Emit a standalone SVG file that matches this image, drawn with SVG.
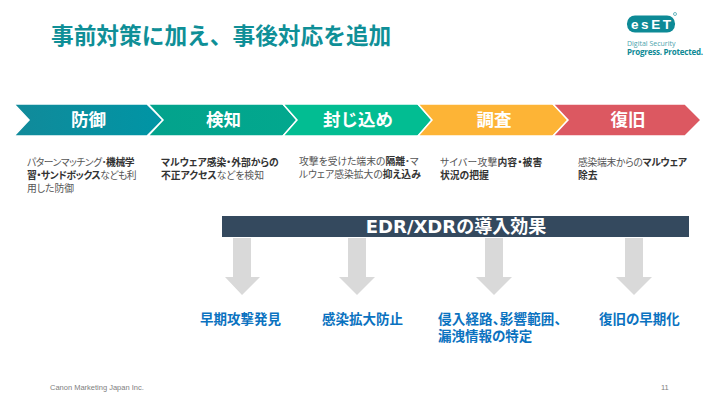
<svg xmlns="http://www.w3.org/2000/svg" width="720" height="403" viewBox="0 0 720 403">
<defs>
<linearGradient id="g1" x1="0" x2="1" y1="0" y2="0"><stop offset="0" stop-color="#118a9a"/><stop offset="1" stop-color="#0095a5"/></linearGradient>
<linearGradient id="g2" x1="0" x2="1" y1="0" y2="0"><stop offset="0" stop-color="#03a28c"/><stop offset="1" stop-color="#02a88e"/></linearGradient>
</defs>
<style>
text{font-family:"Noto Sans CJK JP","Noto Sans",sans-serif}
.s{stroke:#fff;stroke-width:1.5}
.h{font-size:17.5px;font-weight:700;fill:#fff;text-anchor:middle}
.b{font-size:9.8px;fill:#555;font-feature-settings:"palt"}
.b tspan.k{font-weight:700;fill:#333}
.t{letter-spacing:-.45px}
.r{font-size:13.5px;font-weight:700;fill:#0a72c0;font-feature-settings:"palt"}
.a{fill:#d9d9d9}
</style>
<rect width="720" height="403" fill="#fff"/>
<text id="title" x="51" y="44" font-size="22.700" font-weight="700" fill="#0f8f97">事前対策に加え、事後対応を追加</text>
<g id="logo">
<rect x="627" y="15.500" width="48" height="17" rx="8" fill="#0d8a96"/>
<text x="651" y="28.500" font-size="13.500" font-weight="700" fill="#fff" text-anchor="middle" style="font-family:'Liberation Sans',sans-serif" textLength="40">esET</text>
<circle cx="675" cy="14" r="1.500" fill="none" stroke="#0d8a96" stroke-width=".6"/>
<text x="627" y="46" font-size="7" fill="#4aa3ad" style="font-family:'Open Sans',sans-serif">Digital Security</text>
<text x="627" y="55" font-size="8" font-weight="700" fill="#0d8a96" style="font-family:'Open Sans',sans-serif" textLength="76">Progress. Protected.</text>
</g>
<g id="step1"><polygon class="s" fill="url(#g1)" points="14,104 147,104 163,120 147,136 14,136 29,120"/><text class="h" x="88.500" y="126">防御</text>
<text class="b t" x="27" y="165.500">パターンマッチング・<tspan class="k">機械学</tspan></text><text class="b t" x="27" y="179"><tspan class="k">習・サンドボックス</tspan>なども利</text><text class="b" x="27" y="192">用した防御</text></g>
<g id="step2"><polygon class="s" fill="url(#g2)" points="148,104 283,104 297,120 283,136 148,136 163,120"/><text class="h" x="223.500" y="126">検知</text>
<text class="b" x="161" y="165.500"><tspan class="k">マルウェア感染・外部からの</tspan></text><text class="b" x="161" y="179"><tspan class="k">不正アクセス</tspan>などを検知</text></g>
<g id="step3"><polygon class="s" fill="#02bd92" points="283,104 418,104 432,120 418,136 283,136 297,120"/><text class="h" x="358" y="126">封じ込め</text>
<text class="b" x="299" y="165">攻撃を受けた端末の<tspan class="k">隔離</tspan>・マ</text><text class="b" x="299" y="178">ルウェア感染拡大の<tspan class="k">抑え込み</tspan></text></g>
<g id="step4"><polygon class="s" fill="#fdb436" points="418,104 553,104 568,120 553,136 418,136 432,120"/><text class="h" x="494" y="126">調査</text>
<text class="b" x="440" y="165.500" letter-spacing=".2">サイバー攻撃<tspan class="k">内容・被害</tspan></text><text class="b" x="440" y="179"><tspan class="k">状況の把握</tspan></text></g>
<g id="step5"><polygon class="s" fill="#dc5861" points="553,104 685,104 701,120 685,136 553,136 568,120"/><text class="h" x="628" y="126">復旧</text>
<text class="b" x="578" y="165.500" letter-spacing="-.3">感染端末からの<tspan class="k">マルウェア</tspan></text><text class="b" x="578" y="179"><tspan class="k">除去</tspan></text></g>
<g id="bar"><rect x="222" y="216" width="467" height="21" fill="#34495e"/><text x="456" y="232.500" font-size="18" font-weight="700" fill="#fff" text-anchor="middle" style="font-family:'DejaVu Sans','Noto Sans CJK JP',sans-serif">EDR/XDRの導入効果</text></g>
<g id="connectors">
<polygon class="a" points="233,238 251,238 251,277 260,277 242,295 225,277 233,277"/>
<polygon class="a" points="348,238 366,238 366,277 375,277 357,295 339,277 348,277"/>
<polygon class="a" points="485,238 503,238 503,277 512,277 494,295 476,277 485,277"/>
<polygon class="a" points="625,238 643,238 643,277 652,277 634,295 616,277 625,277"/>
</g>
<g id="r1"><text class="r" x="200" y="324">早期攻撃発見</text></g>
<g id="r2"><text class="r" x="322" y="324">感染拡大防止</text></g>
<g id="r3"><text class="r" x="438" y="324" letter-spacing=".2">侵入経路、影響範囲、</text><text class="r" x="438" y="341">漏洩情報の特定</text></g>
<g id="r4"><text class="r" x="599" y="324">復旧の早期化</text></g>
<text id="foot" x="50" y="390" font-size="7.500" fill="#808080" style="font-family:'Liberation Sans',sans-serif">Canon Marketing Japan Inc.</text>
<text id="page" x="661" y="390" font-size="7.500" fill="#808080" style="font-family:'Liberation Sans',sans-serif">11</text>
</svg>
